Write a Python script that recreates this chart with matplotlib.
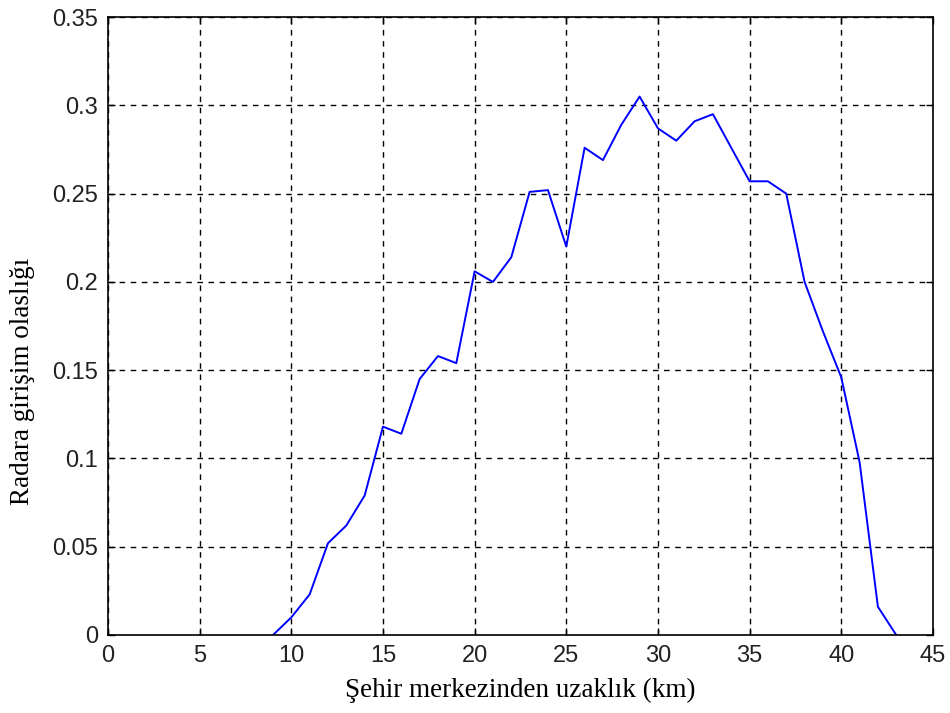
import matplotlib
matplotlib.use("Agg")
import matplotlib.pyplot as plt

# distance from city centre (km) and radar interference probability
mesafe = [9, 10, 11, 12, 13, 14, 15, 16, 17, 18, 19, 20, 21, 22, 23, 24, 25, 26,
          27, 28, 29, 30, 31, 32, 33, 34, 35, 36, 37, 38, 39, 40, 41, 42, 43]
olasilik = [0.0, 0.010, 0.023, 0.052, 0.062, 0.079, 0.118, 0.114, 0.145, 0.158,
            0.154, 0.206, 0.200, 0.214, 0.251, 0.252, 0.220, 0.276, 0.269, 0.289,
            0.305, 0.287, 0.280, 0.291, 0.295, 0.276, 0.257, 0.257, 0.250, 0.200,
            0.172, 0.146, 0.098, 0.016, 0.0]

xticks = [0, 5, 10, 15, 20, 25, 30, 35, 40, 45]
yticks = [0, 0.05, 0.1, 0.15, 0.2, 0.25, 0.3, 0.35]
yticklabels = ['0', '0.05', '0.1', '0.15', '0.2', '0.25', '0.3', '0.35']

fig = plt.figure(figsize=(9.5, 7.13), dpi=100)
ax = fig.add_axes([0.1137, 0.1094, 0.8683, 0.8666])

ax.plot(mesafe, olasilik, color='#0000ff', lw=1.4)

ax.set_xlim(0, 45)
ax.set_ylim(0, 0.35)
ax.set_xticks(xticks)
ax.set_yticks(yticks)
ax.set_yticklabels(yticklabels)
ax.tick_params(direction='in', length=5, width=1, labelsize=17, pad=7,
               top=True, right=True, labelcolor='#222222',
               labelfontfamily='Liberation Sans')
ax.grid(True, color='black', linestyle=(0, (4, 4)), lw=1)
for s in ax.spines.values():
    s.set_linewidth(1.2)

ax.set_xlabel('Şehir merkezinden uzaklık (km)', family='Liberation Serif',
              fontsize=19.5, labelpad=8)
ax.set_ylabel('Radara girişim olaslığı', family='Liberation Serif',
              fontsize=19.5)
ax.yaxis.set_label_coords(-0.088, 0.411)

fig.savefig('out.png', dpi=100)
